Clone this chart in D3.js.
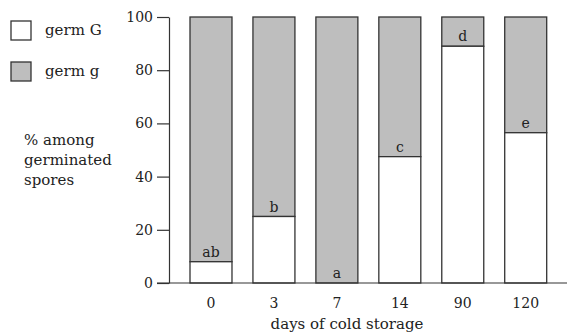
<!DOCTYPE html>
<html lang="en">
<head>
    <meta charset="UTF-8">
    <title>Germ types</title>
    <script src="https://cdn.jsdelivr.net/npm/d3@7/dist/d3.min.js"></script>
    <style>
        body { margin: 0; background: #fff; }
        svg text { font-family: "DejaVu Serif", serif; fill: #222; }
        .bar { stroke: #333; stroke-width: 1.3; }
        .axis path, .axis line { stroke: #333; stroke-width: 1.2; }
    </style>
</head>
<body>
<div class="chart"></div>
<script>
    var days = ["0", "3", "7", "14", "90", "120"];
    var germG = [8, 25, 0, 47.5, 89, 56.5];
    var letters = ["ab", "b", "a", "c", "d", "e"];
    var yTicks = [0, 20, 40, 60, 80, 100];
    var legendLabels = ["germ G", "germ g"];

    var colors = { G: "#ffffff", g: "#bebebe" };

    var svg = d3.select(".chart").append("svg")
        .attr("width", 567)
        .attr("height", 332);

    var x = d3.scaleBand()
        .domain(days)
        .range([190, 546.7])
        .paddingInner(0.333)
        .paddingOuter(0);

    var y = d3.scaleLinear()
        .domain([0, 100])
        .range([283, 17]);

    var rows = days.map(function(d, i) {
        return { day: d, G: germG[i], g: 100 - germG[i], letter: letters[i] };
    });

    // gray part (germ g) on top
    svg.selectAll("rect.g").data(rows).enter().append("rect")
        .attr("class", "bar g")
        .attr("x", function(d) { return x(d.day); })
        .attr("width", x.bandwidth())
        .attr("y", y(100))
        .attr("height", function(d) { return y(d.G) - y(100); })
        .style("fill", colors.g);

    // white part (germ G) at bottom
    svg.selectAll("rect.G").data(rows.filter(function(d) { return d.G > 0; })).enter().append("rect")
        .attr("class", "bar G")
        .attr("x", function(d) { return x(d.day); })
        .attr("width", x.bandwidth())
        .attr("y", function(d) { return y(d.G); })
        .attr("height", function(d) { return y(0) - y(d.G); })
        .style("fill", colors.G);

    // significance letters
    svg.selectAll("text.letter").data(rows).enter().append("text")
        .attr("class", "letter")
        .attr("x", function(d) { return x(d.day) + x.bandwidth() / 2; })
        .attr("y", function(d) { return y(d.G) - 5; })
        .attr("text-anchor", "middle")
        .style("font-size", "14px")
        .text(function(d) { return d.letter; });

    // y axis
    var yAxis = d3.axisLeft(y)
        .tickValues(yTicks)
        .tickSize(12)
        .tickSizeOuter(0)
        .tickPadding(4);

    var gy = svg.append("g")
        .attr("class", "axis")
        .attr("transform", "translate(169,0)")
        .call(yAxis);
    gy.selectAll("text").style("font-size", "14px").style("font-family", "DejaVu Serif, serif").attr("fill", "#222");

    // baseline
    svg.append("line")
        .attr("class", "axis")
        .attr("x1", 157).attr("x2", 567)
        .attr("y1", y(0)).attr("y2", y(0))
        .style("stroke", "#333").style("stroke-width", 1.2);

    // x labels
    svg.selectAll("text.xlab").data(days).enter().append("text")
        .attr("class", "xlab")
        .attr("x", function(d) { return x(d) + x.bandwidth() / 2; })
        .attr("y", 308)
        .attr("text-anchor", "middle")
        .style("font-size", "14px")
        .text(function(d) { return d; });

    svg.append("text")
        .attr("x", 347)
        .attr("y", 329)
        .attr("text-anchor", "middle")
        .style("font-size", "15px")
        .text("days of cold storage");

    // y label
    var ylab = svg.append("text")
        .attr("x", 24)
        .attr("y", 145)
        .style("font-size", "15px");
    ["% among", "germinated", "spores"].forEach(function(t, i) {
        ylab.append("tspan").attr("x", 24).attr("dy", i === 0 ? 0 : 20).text(t);
    });

    // legend
    var legend = svg.selectAll("g.legend").data(legendLabels).enter().append("g")
        .attr("class", "legend")
        .attr("transform", function(d, i) { return "translate(11," + (21 + i * 41) + ")"; });
    legend.append("rect")
        .attr("width", 20).attr("height", 19)
        .style("fill", function(d, i) { return i === 0 ? colors.G : colors.g; })
        .style("stroke", "#333").style("stroke-width", 1.3);
    legend.append("text")
        .attr("x", 34).attr("y", 14)
        .style("font-size", "15px")
        .text(function(d) { return d; });
</script>
</body>
</html>
